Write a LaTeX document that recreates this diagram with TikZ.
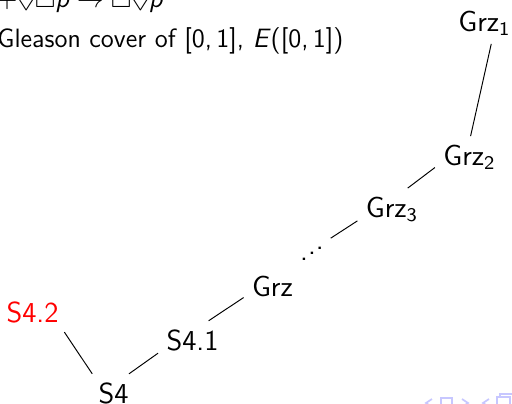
\documentclass[tikz,border=0pt]{standalone}
\usepackage{amssymb}
\newcommand{\risingdots}{.\raisebox{0.19em}{.}\raisebox{0.38em}{.}}
\newcommand{\sfit}[1]{\textsf{\textit{#1}}}
\tikzset{
  slide/.style={font=\fontsize{11}{13.6}\selectfont\sffamily, inner sep=0pt},
  logic/.style={font=\fontsize{12}{14.5}\selectfont\sffamily, anchor=base},
  navsym/.style={draw=blue!22, line width=0.7pt}
}
\begin{document}
\begin{tikzpicture}[x=0.01459cm,y=-0.01459cm]
\useasboundingbox (0,0) rectangle (512,404);
% slide text, cut at the left edge
\node[slide,anchor=base east] (axiom) at (164,7) {$+\Diamond\Box\sfit{p}\to\Box\Diamond\sfit{p}$};
\node[slide,anchor=base east] (gleason) at (344,47) {Gleason cover of [0,\,1], \textit{E}([0,\,1])};
% the logics
\node[logic,text=red] (s42) at (32.5,323) {S4.2};
\node[logic] (s4) at (113.5,403) {S4};
\node[logic] (s41) at (192.5,350) {S4.1};
\node[logic] (grz) at (272.5,296.5) {Grz};
\node[logic] (dots) at (312,260) {\risingdots};
\node[logic] (grz3) at (392,217) {Grz$_{\mathsf{3}}$};
\node[logic] (grz2) at (469.5,165) {Grz$_{\mathsf{2}}$};
\node[logic] (grz1) at (484.5,31) {Grz$_{\mathsf{1}}$};
\draw (s42.-31) -- (s4.138);
\draw (s4.51) -- (s41.201);
\draw (s41.50) -- (grz.201);
\draw (dots.39) -- (grz3.199);
\draw (grz3.53) -- (grz2.197);
\draw (grz2.87) -- (grz1.-72);
% navigation symbols
\draw[navsym] (432,399) -- (426,403) -- (432,407);
\draw[navsym] (441,406) -- (441,398) -- (452,398) -- (452,406);
\draw[navsym] (462,399) -- (468,403) -- (462,407);
\draw[navsym] (489,399) -- (483,403) -- (489,407);
\draw[navsym] (497,406) -- (497,397) -- (510,397) -- (510,406);
\draw[navsym] (500,397) -- (500,394) -- (512,394);
\end{tikzpicture}
\end{document}
